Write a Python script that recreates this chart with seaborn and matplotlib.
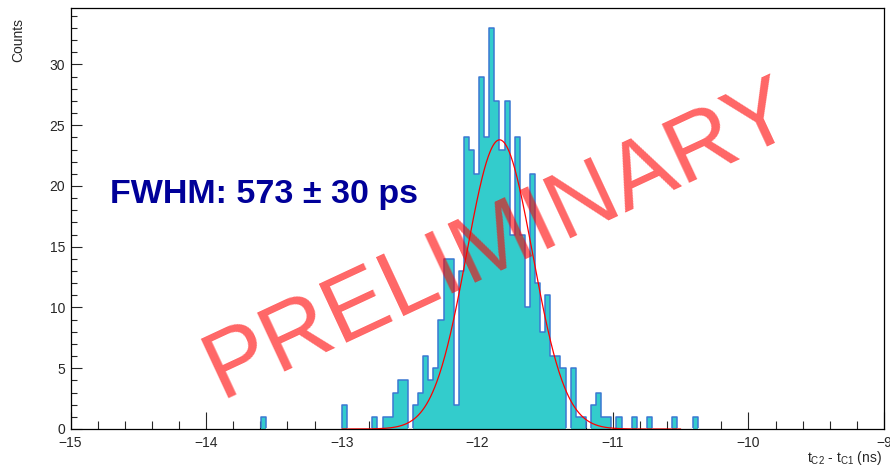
import numpy as np
import pandas as pd
import matplotlib
matplotlib.use('Agg')
import matplotlib.pyplot as plt
from matplotlib.ticker import MultipleLocator
from matplotlib.patches import Rectangle
import seaborn as sns

# binning : 160 bins de 37.5 ps entre -15 et -9 (bords decales de ~14 ps)
x_min = -15.0
x_max = -9.0
n_bins = 160
bin_offset = 0.014

# contenu des bins non vides (indice du bin -> coups)
bin_index = [37, 53, 59, 61, 62, 63, 64, 65, 67, 68,
             69, 70, 71, 72, 73, 74, 75, 76, 77, 78,
             79, 80, 81, 82, 83, 84, 85, 86, 87, 88,
             89, 90, 91, 92, 93, 94, 95, 96, 98, 99,
             100, 102, 103, 104, 105, 107, 110, 113, 118, 122]
bin_counts = [1, 2, 1, 1, 1, 3, 4, 4, 2, 3,
              6, 4, 5, 9, 14, 14, 2, 13, 24, 23,
              21, 29, 24, 33, 27, 23, 27, 16, 24, 16,
              10, 21, 12, 8, 11, 6, 6, 5, 5, 1,
              1, 2, 3, 1, 1, 1, 1, 1, 1, 1]

# parametres du fit gaussien
fit_amp = 23.8
fit_mean = -11.835
fit_sigma = 0.2433
fit_range = (-13.0, -10.5)

x_ticks_major = [-15, -14, -13, -12, -11, -10, -9]
y_ticks_major = [0, 5, 10, 15, 20, 25, 30]

bin_w = (x_max - x_min) / n_bins
lo = x_min + bin_offset
centers = lo + bin_w * (np.arange(n_bins) + 0.5)
counts = np.zeros(n_bins)
counts[bin_index] = bin_counts
df = pd.DataFrame({'t': centers, 'n': counts})

sns.set_style('white')
plt.rcParams['font.family'] = ['Liberation Sans', 'DejaVu Sans']

fig = plt.figure(figsize=(8.9, 4.7), dpi=100)
ax = fig.add_axes([70.5 / 890, 1 - 429 / 470, (884 - 70.5) / 890, (429 - 8) / 470])

# histogramme : remplissage puis contour
sns.histplot(data=df, x='t', weights='n', binwidth=bin_w, binrange=(lo, lo + n_bins * bin_w),
             element='step', fill=True, color='#33cccc', alpha=1, linewidth=0, ax=ax)
n_lines = len(ax.lines)
sns.histplot(data=df, x='t', weights='n', binwidth=bin_w, binrange=(lo, lo + n_bins * bin_w),
             element='step', fill=False, color='#3b78d2', linewidth=1.1, ax=ax)
# pas de contour bleu le long de l'axe (y = 0)
clip = Rectangle((x_min, 0.08), x_max - x_min, 50, transform=ax.transData)
for ln in ax.lines[n_lines:]:
    ln.set_clip_path(clip)

# courbe du fit
xf = np.linspace(fit_range[0], fit_range[1], 500)
yf = fit_amp * np.exp(-0.5 * ((xf - fit_mean) / fit_sigma) ** 2)
sns.lineplot(x=xf, y=yf, color='red', linewidth=0.9, ax=ax)

ax.set_xlim(x_min, x_max)
ax.set_ylim(0, 1.05 * max(bin_counts))
ax.set_xticks(x_ticks_major)
ax.set_xticklabels(['\u2212' + str(abs(t)) for t in x_ticks_major])
ax.set_yticks(y_ticks_major)
ax.xaxis.set_minor_locator(MultipleLocator(0.2))
ax.yaxis.set_minor_locator(MultipleLocator(1))
ax.tick_params(axis='x', which='major', direction='in', length=12, width=0.8,
               labelsize=10, pad=5, bottom=True, top=False)
ax.tick_params(axis='x', which='minor', direction='in', length=6, width=0.8,
               bottom=True, top=False)
ax.tick_params(axis='y', which='major', direction='in', length=8, width=0.8,
               labelsize=10, pad=4, left=True, right=False)
ax.tick_params(axis='y', which='minor', direction='in', length=4, width=0.8,
               left=True, right=False)
for s in ax.spines.values():
    s.set_color('black')
    s.set_linewidth(0.9)
    s.set_zorder(5)
ax.set_xlabel('')
ax.set_ylabel('')

fig.text(18 / 890, 1 - 18 / 470, 'Counts', rotation=90, ha='center', va='top',
         fontsize=10)
fig.text(882 / 890, 1 - 458 / 470,
         't$_{\\mathregular{C2}}$ - t$_{\\mathregular{C1}}$ (ns)',
         ha='right', va='center', fontsize=10)

fig.text(110 / 890, 1 - 194 / 470, 'FWHM: 573 \u00b1 30 ps', ha='left', va='center',
         fontsize=24.5, fontweight='bold', color='#000099')

fig.text(499 / 890, 1 - 240 / 470, 'PRELIMINARY', ha='center', va='center',
         rotation=25, rotation_mode='anchor', fontsize=68, color='red', alpha=0.6)

fig.savefig('out.png', dpi=100)
